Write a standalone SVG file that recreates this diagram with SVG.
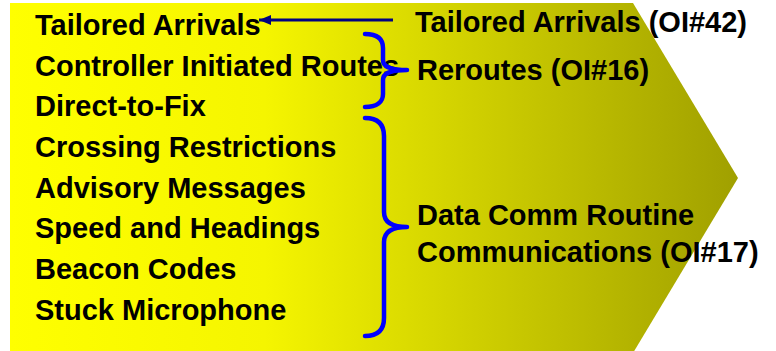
<svg xmlns="http://www.w3.org/2000/svg" width="776" height="351" viewBox="0 0 776 351">
  <style>
    text { font-family: "Liberation Sans", Arial, sans-serif; font-weight: bold; font-size: 29px; fill: #000000; }
    .brace { fill: none; stroke: #0000FF; stroke-width: 4.5; stroke-linecap: round; stroke-linejoin: round; }
    .arrow { fill: none; stroke: #000080; stroke-width: 3; }
  </style>
  <defs>
    <linearGradient id="chevGrad" gradientUnits="userSpaceOnUse" x1="10" y1="0" x2="738" y2="0">
      <stop offset="0" stop-color="#FFFF00"/>
      <stop offset="0.35" stop-color="#F5F500"/>
      <stop offset="1" stop-color="#A0A000"/>
    </linearGradient>
    <marker id="arrowHead" markerUnits="userSpaceOnUse" markerWidth="13" markerHeight="10" refX="12" refY="5" orient="auto">
      <path d="M0,0 L12,5 L0,10 Z" fill="#000080"/>
    </marker>
  </defs>
  <rect width="776" height="351" fill="#FFFFFF"/>
  <g id="chevron">
    <polygon points="10,3 633,3 738,178 633,353 10,353" fill="url(#chevGrad)"/>
  </g>
  <g id="list">
    <g id="item-tailored"><text x="35" y="35">Tailored Arrivals</text></g>
    <g id="item-controller"><text x="35" y="76">Controller Initiated Routes</text></g>
    <g id="item-direct"><text x="35" y="116">Direct-to-Fix</text></g>
    <g id="item-crossing"><text x="35" y="157">Crossing Restrictions</text></g>
    <g id="item-advisory"><text x="35" y="198">Advisory Messages</text></g>
    <g id="item-speed"><text x="35" y="238">Speed and Headings</text></g>
    <g id="item-beacon"><text x="35" y="279">Beacon Codes</text></g>
    <g id="item-stuck"><text x="35" y="320">Stuck Microphone</text></g>
  </g>
  <g id="label-oi42"><text x="415" y="32">Tailored Arrivals (OI#42)</text></g>
  <g id="label-oi16"><text x="417" y="80">Reroutes (OI#16)</text></g>
  <g id="label-oi17">
    <text x="417" y="225">Data Comm Routine</text>
    <text x="417" y="262">Communications (OI#17)</text>
  </g>
  <g id="connectors">
    <line class="arrow" x1="393" y1="20" x2="259" y2="20" marker-end="url(#arrowHead)"/>
    <path class="brace" d="M365,34 C377,34 383,39 383,48 L383,60 C383,66 388,70 407,70 C388,70 383,74 383,80 L383,94 C383,102 377,107 365,107"/>
    <path class="brace" d="M365,118 C378,118 384,124 384,136 L384,212 C384,221 390,227 407,227 C390,227 384,233 384,242 L384,318 C384,330 378,336 365,336"/>
  </g>
</svg>
